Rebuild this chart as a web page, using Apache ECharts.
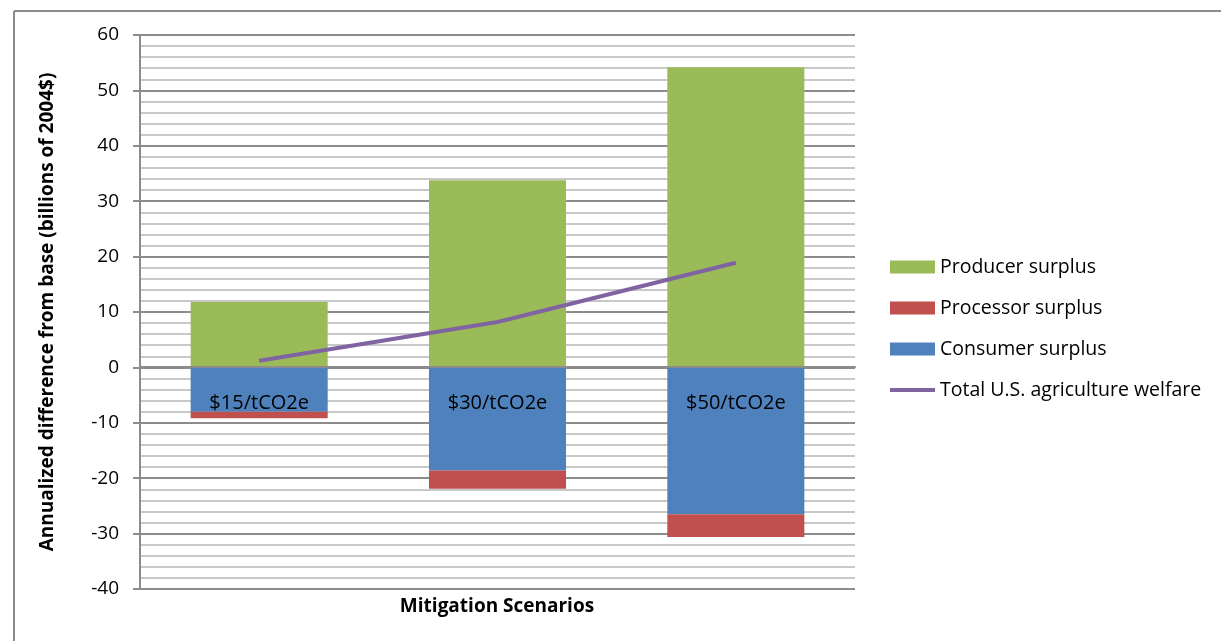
<!DOCTYPE html>
<html>
<head>
<meta charset="utf-8">
<script src="https://cdn.jsdelivr.net/npm/echarts@6/dist/echarts.min.js"></script>
<style>
html,body{margin:0;padding:0;background:#fff;}
#chart{width:1221px;height:641px;}
</style>
</head>
<body>
<div id="chart"></div>
<script>
const categories = ['$15/tCO2e', '$30/tCO2e', '$50/tCO2e'];
const producerSurplus = [11.8, 33.8, 54.2];
const consumerSurplus = [-8.0, -18.6, -26.5];
const processorSurplus = [-1.2, -3.3, -4.1];
const totalWelfare = [1.2, 8.2, 18.9];
const yTicks = { min: -40, max: 60, interval: 10 };

const FONT = '"Open Sans", "Liberation Sans", sans-serif';
const chart = echarts.init(document.getElementById('chart'), null, { renderer: 'canvas' });
chart.setOption({
  animation: false,
  backgroundColor: '#fff',
  textStyle: { fontFamily: FONT },
  grid: { left: 140, right: 366, top: 35, bottom: 52, containLabel: false },
  legend: {
    orient: 'vertical',
    left: 890,
    top: 257,
    padding: 0,
    itemWidth: 45,
    itemHeight: 13,
    itemGap: 21,
    textStyle: { fontFamily: FONT, fontSize: 19.5, color: '#000' },
    data: [
      { name: 'Producer surplus', icon: 'rect' },
      { name: 'Processor surplus', icon: 'rect' },
      { name: 'Consumer surplus', icon: 'rect' },
      { name: 'Total U.S. agriculture welfare', icon: 'path://M0,0 L0.01,0 M0,4.5 L45,4.5 L45,8.5 L0,8.5 Z M0,13 L0.01,13' }
    ]
  },
  xAxis: {
    type: 'category',
    data: categories,
    position: 'bottom',
    offset: -222,
    z: 10,
    axisLine: { onZero: false, lineStyle: { color: '#8c8c8c', width: 2 } },
    axisTick: { show: false },
    axisLabel: { margin: 26, fontSize: 20, color: '#000', fontFamily: FONT },
    splitLine: { show: false }
  },
  yAxis: {
    type: 'value',
    min: yTicks.min,
    max: yTicks.max,
    interval: yTicks.interval,
    name: 'Annualized difference from base (billions of 2004$)',
    nameLocation: 'middle',
    nameRotate: 90,
    nameGap: 83,
    nameTextStyle: { fontSize: 19, fontWeight: 'bold', color: '#000', fontFamily: FONT },
    axisLine: { show: true, lineStyle: { color: '#8c8c8c', width: 2 } },
    axisTick: { show: true, inside: false, length: 7, lineStyle: { color: '#8c8c8c', width: 2 } },
    axisLabel: { fontSize: 19, color: '#000', margin: 21, fontFamily: FONT },
    splitLine: { show: true, lineStyle: { color: '#8c8c8c', width: 2 } },
    minorTick: { show: false, splitNumber: 5 },
    minorSplitLine: { show: true, lineStyle: { color: '#c8c8c8', width: 2 } }
  },
  graphic: [
    { type: 'line', shape: { x1: 14, y1: 11, x2: 1221, y2: 11 }, style: { stroke: '#8c8c8c', lineWidth: 2 } },
    { type: 'line', shape: { x1: 14, y1: 11, x2: 14, y2: 641 }, style: { stroke: '#8c8c8c', lineWidth: 2 } },
    { type: 'text', x: 497, y: 607, style: { text: 'Mitigation Scenarios', fontSize: 19, fontWeight: 'bold', fill: '#000', fontFamily: FONT, textAlign: 'center', textVerticalAlign: 'middle' } }
  ],
  series: [
    { name: 'Producer surplus', type: 'bar', stack: 's', barWidth: '57.5%', data: producerSurplus, itemStyle: { color: '#9BBB59' } },
    { name: 'Consumer surplus', type: 'bar', stack: 's', barWidth: '57.5%', data: consumerSurplus, itemStyle: { color: '#4F81BD' } },
    { name: 'Processor surplus', type: 'bar', stack: 's', barWidth: '57.5%', data: processorSurplus, itemStyle: { color: '#C0504D' } },
    { name: 'Total U.S. agriculture welfare', type: 'line', data: totalWelfare, symbol: 'none', z: 5,
      lineStyle: { color: '#8064A2', width: 4 }, itemStyle: { color: '#8064A2' } }
  ]
});
</script>
</body>
</html>
